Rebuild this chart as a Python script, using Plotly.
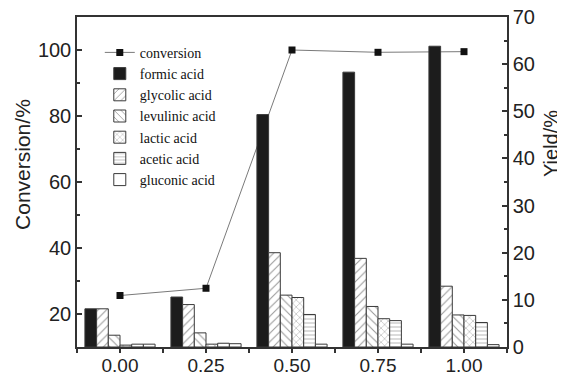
import plotly.graph_objects as go

# ---- data ----
x_vals = [0.0, 0.25, 0.50, 0.75, 1.00]
x_ticktext = ["0.00", "0.25", "0.50", "0.75", "1.00"]
conversion = [25.6, 27.8, 100.0, 99.3, 99.5]
formic = [8.1, 10.6, 49.3, 58.3, 63.8]
glycolic = [8.1, 9.0, 20.0, 18.8, 12.9]
levulinic = [2.5, 3.0, 11.0, 8.6, 6.8]
lactic = [0.4, 0.6, 10.5, 6.0, 6.7]
acetic = [0.6, 0.8, 6.9, 5.6, 5.2]
gluconic = [0.6, 0.7, 0.6, 0.6, 0.5]

bar_names = ["formic acid", "glycolic acid", "levulinic acid",
             "lactic acid", "acetic acid", "gluconic acid"]
bar_series = [formic, glycolic, levulinic, lactic, acetic, gluconic]
bar_patterns = ["", "/", "\\", "x", "-", ""]
bar_colors = ["#1c1c1c", "white", "white", "white", "white", "white"]
pattern_sizes = [6, 6, 6, 5, 4, 6]

EDGE = "#3a3a3a"
fig = go.Figure()

fig.add_trace(go.Scatter(
    x=x_vals, y=conversion, name="conversion", mode="lines+markers",
    line=dict(color="#7a7a7a", width=1),
    marker=dict(symbol="square", size=7, color="#111111"),
    yaxis="y",
))

for name, vals, pat, col, ps in zip(bar_names, bar_series, bar_patterns,
                                     bar_colors, pattern_sizes):
    fig.add_trace(go.Bar(
        x=x_vals, y=vals, name=name, yaxis="y2",
        marker=dict(
            color=col,
            line=dict(color=EDGE, width=1),
            pattern=dict(shape=pat, fgcolor="#333333", bgcolor=col,
                         size=ps, solidity=0.18),
        ),
    ))

tick_font = dict(family="Liberation Sans, Arial, sans-serif", size=20, color="#222222")
xtick_font = dict(family="Liberation Sans, Arial, sans-serif", size=19, color="#222222")

# The page body has an 8px default margin, so the figure is sized/offset to compensate.
fig.update_layout(
    width=557, height=365,
    margin=dict(l=69, r=58, t=9, b=26, autoexpand=False),
    paper_bgcolor="white", plot_bgcolor="white",
    barmode="group", bargap=0.184, bargroupgap=0,
    showlegend=True,
    legend=dict(
        x=0.053, y=0.94, xanchor="left", yanchor="top",
        bgcolor="rgba(0,0,0,0)", borderwidth=0,
        font=dict(family="Liberation Serif, Times New Roman, serif", size=14, color="#111111"),
        tracegroupgap=0, traceorder="normal",
    ),
    xaxis=dict(
        range=[-0.125, 1.125], tickmode="array", tickvals=x_vals, ticktext=x_ticktext,
        automargin=False, ticklabeloverflow="allow", ticklabelstandoff=-4,
        showline=True, linecolor="#333333", linewidth=1.5, mirror=True,
        ticks="outside", ticklen=4, tickcolor="#333333", tickwidth=1.5,
        minor=dict(tickmode="array", tickvals=[-0.125, 0.125, 0.375, 0.625, 0.875, 1.125],
                   ticks="outside", ticklen=4, tickcolor="#333333", tickwidth=1.5),
        showgrid=False, zeroline=False, tickfont=xtick_font,
    ),
    yaxis=dict(
        range=[10, 110], tick0=0, dtick=20, automargin=False, ticklabeloverflow="allow",
        showline=True, linecolor="#333333", linewidth=1.5,
        ticks="inside", ticklen=5, tickcolor="#333333", tickwidth=1.5,
        minor=dict(dtick=10, ticks="inside", ticklen=3, tickcolor="#333333", tickwidth=1.5),
        showgrid=False, zeroline=False, tickfont=tick_font,
    ),
    yaxis2=dict(
        range=[0, 70], tick0=0, dtick=10, overlaying="y", side="right",
        automargin=False, ticklabeloverflow="allow",
        showline=True, linecolor="#333333", linewidth=1.5,
        ticks="inside", ticklen=5, tickcolor="#333333", tickwidth=1.5,
        minor=dict(dtick=5, ticks="inside", ticklen=3, tickcolor="#333333", tickwidth=1.5),
        showgrid=False, zeroline=False, tickfont=tick_font,
    ),
    annotations=[
        dict(text="Conversion/%", xref="paper", yref="paper", x=-0.1265, y=0.5536,
             textangle=-90, showarrow=False, xanchor="center", yanchor="middle",
             font=dict(family="Liberation Sans, Arial, sans-serif", size=21, color="#222222")),
        dict(text="Yield/%", xref="paper", yref="paper", x=1.104, y=0.6173,
             textangle=-90, showarrow=False, xanchor="center", yanchor="middle",
             font=dict(family="Liberation Sans, Arial, sans-serif", size=20, color="#222222")),
    ],
)

fig.write_html("out.html")
